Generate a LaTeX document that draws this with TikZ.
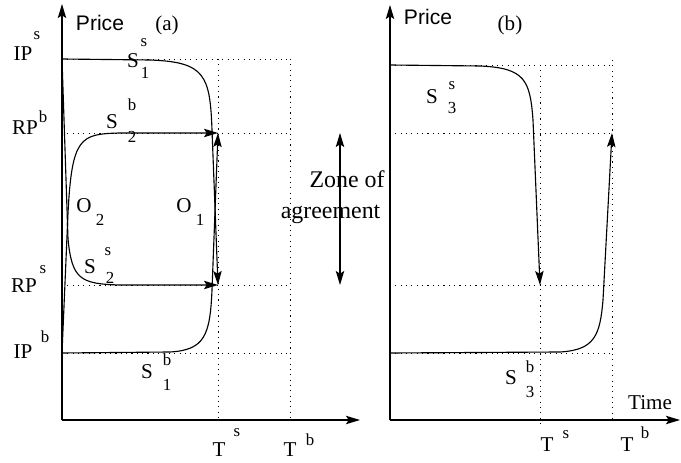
\documentclass[tikz,border=0pt]{standalone}
\usepackage{fontspec}
\setmainfont{Liberation Serif}
\newfontfamily\pricefont{Liberation Sans}
\usetikzlibrary{arrows.meta}
\tikzset{
  axis/.style={line width=0.8pt,-{Stealth[length=10pt,width=6pt,inset=2pt]}},
  curve/.style={line width=0.8pt},
  tip/.style={-{Stealth[length=10pt,width=6pt,inset=2pt]}},
  guide/.style={line width=0.7pt,dash pattern=on 0.8pt off 3pt},
  lab/.style={font=\fontsize{15}{18}\selectfont,inner sep=0pt},
  scr/.style={font=\fontsize{12}{14}\selectfont,inner sep=0pt}
}
\begin{document}
\begin{tikzpicture}[x=0.5cm,y=0.5cm]
\useasboundingbox (0,0) rectangle (34.05,23.15);
% panel (a)
\coordinate (oa) at (3.1,2.15);
\coordinate (ya) at (3.1,22.95);
\coordinate (xa) at (18.0,2.15);
\coordinate (rba) at (10.9,16.5);
\coordinate (rsa) at (10.9,8.9);
\foreach \y in {20.2,16.5,8.9,5.5}
  \draw[guide] (3.1,\y) -- (14.5,\y);
\foreach \x in {10.9,14.5}
  \draw[guide] (\x,20.2) -- (\x,2.15);
\draw[axis] (oa) -- (ya);
\draw[axis] (oa) -- (xa);
\draw[curve,tip] (3.1,20.2) -- (7.5,20.15) .. controls (10.25,20.05) and (10.5,19.4) .. (10.6,16.65) -- (rsa);
\draw[curve,tip] (3.1,5.5) -- (8.5,5.55) .. controls (10.25,5.65) and (10.5,6.4) .. (10.6,8.65) -- (rba);
\draw[curve,tip] (3.1,5.5) -- (3.4,12.5) .. controls (3.6,16.3) and (4.0,16.45) .. (6.0,16.5) -- (rba);
\draw[curve,tip] (3.1,20.2) -- (3.4,11.2) .. controls (3.6,9.2) and (4.0,8.95) .. (6.0,8.9) -- (rsa);
% zone of agreement
\coordinate (zt) at (17.0,16.5);
\coordinate (zb) at (17.0,8.9);
\draw[curve,{Stealth[length=10pt,width=6pt,inset=2pt]}-{Stealth[length=10pt,width=6pt,inset=2pt]}] (zt) -- (zb);
\node[lab,font=\fontsize{17}{20}\selectfont,anchor=base] (zone1) at (17.35,13.75) {Zone of};
\node[lab,font=\fontsize{17}{20}\selectfont,anchor=base] (zone2) at (16.53,12.2) {agreement};
% panel (b)
\coordinate (ob) at (19.5,2.15);
\coordinate (yb) at (19.5,22.9);
\coordinate (xb) at (34.0,2.15);
\coordinate (rsb) at (27.0,8.9);
\coordinate (rbb) at (30.6,16.5);
\foreach \y in {19.9,16.5,8.9,5.5}
  \draw[guide] (19.5,\y) -- (30.6,\y);
\draw[guide] (27.0,19.9) -- (27.0,1.9);
\draw[guide] (30.6,20.15) -- (30.6,2.15);
\draw[axis] (ob) -- (yb);
\draw[axis] (ob) -- (xb);
\draw[curve,tip] (19.5,19.9) -- (24.0,19.85) .. controls (26.25,19.75) and (26.5,19.15) .. (26.65,17.15) -- (rsb);
\draw[curve,tip] (19.5,5.5) -- (28.0,5.55) .. controls (29.75,5.65) and (30.0,6.4) .. (30.15,8.15) -- (rbb);
% labels
\node[lab,font=\pricefont\fontsize{15}{18}\selectfont] (pricea) at (5.0,21.98) {Price};
\node[lab,font=\pricefont\fontsize{15}{18}\selectfont] (priceb) at (21.4,22.3) {Price};
\foreach \x/\y/\t/\n in {1.15/20.45/IP/ipsa,1.25/16.75/RP/rpba,1.2/8.85/RP/rpsa,1.15/5.55/IP/ipba,
  6.65/20.1/S/sones,5.6/17.05/S/stwob,4.2/12.85/O/otwo,9.2/12.85/O/oone,4.5/9.8/S/stwos,
  7.35/4.55/S/soneb,10.95/0.65/T/tsa,14.5/0.65/T/tba,8.35/21.9/(a)/pa,25.5/21.9/(b)/pb,
  21.6/18.3/S/sthrees,25.55/4.25/S/sthreeb,32.5/3.0/Time/time,27.35/0.9/T/tsb,31.35/0.9/T/tbb}
  \node[lab] (\n) at (\x,\y) {\t};
\foreach \x/\y/\t/\n in {1.85/21.35/s/a1,2.15/17.3/b/a2,2.15/9.65/s/a3,2.25/6.3/b/a4,
  7.2/21.0/s/a5,7.25/19.5/1/a6,6.6/17.9/b/a7,6.6/16.3/2/a8,5.0/12.15/2/a9,10.0/12.15/1/a10,
  5.4/10.55/s/a11,5.5/9.25/2/a12,8.35/5.15/b/a13,8.35/3.9/1/a14,11.85/1.5/s/a15,15.5/1.15/b/a16,
  22.6/18.85/s/b1,22.6/17.75/3/b2,26.5/4.8/b/b3,26.5/3.55/3/b4,28.3/1.4/s/b5,32.25/1.5/b/b6}
  \node[scr] (\n) at (\x,\y) {\t};
\end{tikzpicture}
\end{document}
